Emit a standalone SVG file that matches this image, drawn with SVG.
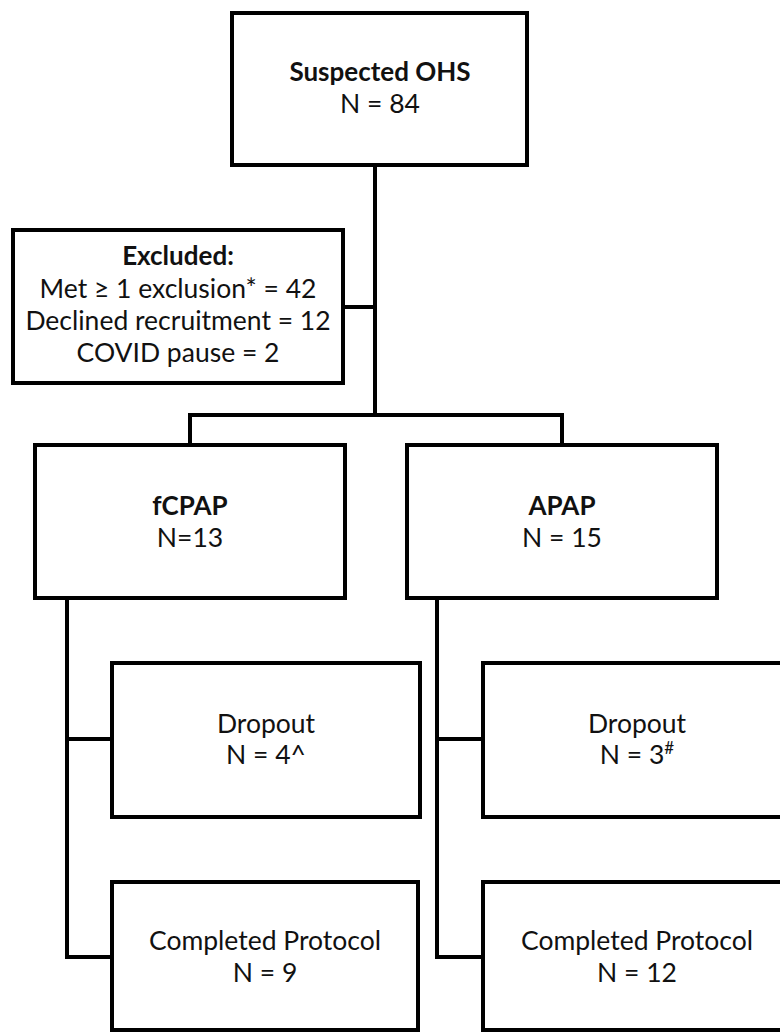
<svg xmlns="http://www.w3.org/2000/svg" width="780" height="1033" viewBox="0 0 780 1033">
<style>
.box{fill:#fff;stroke:#000;stroke-width:4}
.ln{fill:none;stroke:#000;stroke-width:4}
text{font-family:Lato,"Open Sans","Liberation Sans",sans-serif;font-size:26.5px;fill:#111;text-anchor:middle}
.b{font-weight:bold;font-size:26px}
</style>
<rect width="780" height="1033" fill="#fff"/>
<g id="connectors">
<path class="ln" d="M375,165 V415 M343,307 H375 M190,415 H562 M190,413 V445 M562,413 V445"/>
<path class="ln" d="M67,598 V957 H112 M67,739 H112"/>
<path class="ln" d="M437,598 V957 H483 M437,739 H483"/>
</g>
<g id="suspected">
<rect class="box" x="232" y="13" width="295" height="152"/>
<text class="b" x="380" y="81">Suspected OHS</text>
<text x="380" y="113">N = 84</text>
</g>
<g id="excluded">
<rect class="box" x="13" y="230" width="330" height="153"/>
<text class="b" x="178" y="265">Excluded:</text>
<text x="178" y="298">Met ≥ 1 exclusion* = 42</text>
<text x="178" y="330">Declined recruitment = 12</text>
<text x="178" y="362">COVID pause = 2</text>
</g>
<g id="fcpap">
<rect class="box" x="35" y="445" width="310" height="153"/>
<text class="b" x="190" y="515">fCPAP</text>
<text x="190" y="547">N=13</text>
</g>
<g id="apap">
<rect class="box" x="407" y="445" width="310" height="153"/>
<text class="b" x="562" y="515">APAP</text>
<text x="562" y="547">N = 15</text>
</g>
<g id="dropout-fcpap">
<rect class="box" x="112" y="663" width="308" height="154"/>
<text x="266" y="733">Dropout</text>
<text x="266" y="764">N = 4^</text>
</g>
<g id="dropout-apap">
<rect class="box" x="483" y="663" width="308" height="154"/>
<text x="637" y="733">Dropout</text>
<text x="637" y="764">N = 3<tspan font-size="17" dy="-10">#</tspan></text>
</g>
<g id="completed-fcpap">
<rect class="box" x="112" y="882" width="306" height="148"/>
<text x="265" y="950">Completed Protocol</text>
<text x="265" y="982">N = 9</text>
</g>
<g id="completed-apap">
<rect class="box" x="483" y="882" width="308" height="148"/>
<text x="637" y="950">Completed Protocol</text>
<text x="637" y="982">N = 12</text>
</g>
</svg>
